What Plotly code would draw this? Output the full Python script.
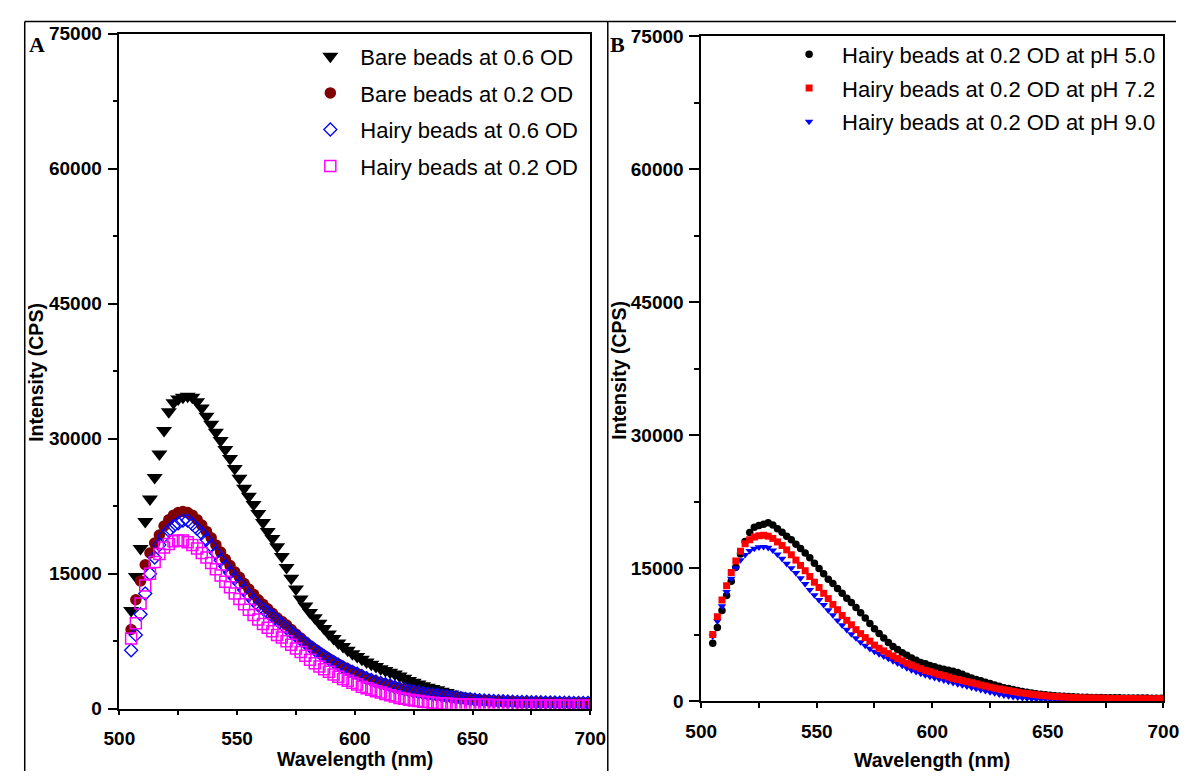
import plotly.graph_objects as go

# ---------------- data ----------------
wavelength = list(range(505, 700, 2))  # nm

# Panel A
bare_06 = [10900, 14700, 17800, 20800, 23300, 25700, 28300, 30900, 33000, 34000,
           34400, 34600, 34700, 34600, 34100, 33400, 32500, 31600, 30700, 29800,
           28800, 27800, 26700, 25600, 24500, 23600, 22700, 21700, 20700, 19700,
           18900, 18000, 16900, 15700, 14500, 13300, 12200, 11400, 10700, 10100,
           9500, 8900, 8300, 7800, 7300, 6900, 6500, 6100, 5800, 5500,
           5200, 4950, 4700, 4450, 4250, 4050, 3850, 3650, 3400, 3150,
           2950, 2750, 2550, 2400, 2250, 2100, 1950, 1800, 1650, 1500,
           1400, 1300, 1210, 1130, 1060, 1000, 950, 900, 860, 820,
           790, 760, 740, 720, 700, 690, 680, 670, 660, 650,
           640, 630, 620, 615, 610, 605, 600, 600]
bare_02 = [8800, 12100, 14200, 16000, 17300, 18400, 19300, 20300, 21000, 21500,
           21800, 21900, 21800, 21500, 21000, 20400, 19700, 19000, 18200, 17400,
           16600, 15900, 15200, 14600, 13900, 13300, 12700, 12100, 11600, 11100,
           10600, 10100, 9700, 9300, 8800, 8300, 7850, 7400, 7000, 6600,
           6250, 5900, 5550, 5250, 4950, 4650, 4400, 4150, 3900, 3650,
           3400, 3200, 3000, 2850, 2700, 2550, 2400, 2250, 2130, 2020,
           1910, 1810, 1720, 1640, 1560, 1490, 1420, 1350, 1280, 1210,
           1140, 1080, 1030, 980, 940, 910, 880, 850, 830, 810,
           790, 770, 750, 740, 730, 720, 710, 700, 690, 680,
           670, 660, 650, 645, 640, 635, 630, 630]
hairy_06 = [6500, 8200, 10500, 12800, 15000, 16800, 18200, 19200, 19800, 20300,
            20600, 20900, 20900, 20500, 20000, 19500, 18800, 18100, 17300, 16500,
            15800, 15100, 14500, 13900, 13200, 12600, 12000, 11500, 11100, 10700,
            10300, 9850, 9400, 8950, 8500, 8100, 7700, 7300, 6900, 6550,
            6200, 5850, 5500, 5200, 4900, 4600, 4350, 4100, 3900, 3650,
            3400, 3200, 3030, 2870, 2720, 2580, 2420, 2270, 2150, 2040,
            1930, 1830, 1740, 1670, 1600, 1530, 1460, 1390, 1320, 1250,
            1180, 1100, 1050, 1000, 960, 930, 900, 870, 850, 830,
            810, 790, 770, 760, 750, 740, 730, 720, 710, 700,
            690, 680, 670, 665, 660, 655, 650, 650]
hairy_02 = [7800, 9500, 11700, 13700, 15000, 16300, 17200, 17900, 18300, 18600,
            18700, 18700, 18500, 18200, 17800, 17300, 16800, 16200, 15500, 14800,
            14100, 13500, 12800, 12200, 11600, 11000, 10400, 9900, 9400, 9000,
            8600, 8200, 7900, 7500, 7100, 6700, 6300, 5900, 5450, 5050,
            4700, 4400, 4100, 3800, 3550, 3300, 3100, 2900, 2700, 2450,
            2270, 2100, 1950, 1800, 1650, 1500, 1350, 1200, 1100, 1000,
            920, 850, 780, 720, 660, 620, 580, 550, 520, 500,
            480, 470, 460, 450, 440, 430, 420, 410, 400, 400,
            390, 390, 380, 380, 370, 370, 360, 360, 360, 350,
            350, 350, 340, 340, 340, 330, 330, 330]

# Panel B
ph_50 = [6500, 8300, 10200, 11900, 13500, 15100, 16600, 18000, 19000, 19600,
         19800, 19950, 20100, 19850, 19450, 19050, 18600, 18200, 17700, 17200,
         16700, 16150, 15550, 14950, 14350, 13750, 13250, 12700, 12150, 11600,
         11100, 10550, 9950, 9350, 8750, 8150, 7600, 7100, 6600, 6150,
         5800, 5450, 5150, 4850, 4600, 4350, 4200, 4000, 3850, 3680,
         3570, 3460, 3340, 3200, 3000, 2790, 2590, 2430, 2270, 2120,
         1960, 1800, 1650, 1500, 1410, 1300, 1180, 1080, 990, 900,
         820, 760, 700, 650, 600, 560, 520, 490, 460, 440,
         420, 410, 400, 390, 380, 370, 360, 355, 350, 345,
         340, 335, 330, 325, 320, 315, 310, 305]
ph_72 = [7500, 9500, 11400, 13000, 14500, 15800, 16900, 17750, 18200, 18500,
         18650, 18700, 18600, 18350, 17950, 17550, 17050, 16500, 15900, 15300,
         14700, 14050, 13400, 12800, 12150, 11550, 10900, 10300, 9650, 9100,
         8600, 8050, 7600, 7150, 6750, 6300, 5950, 5650, 5350, 5080,
         4800, 4530, 4270, 4050, 3850, 3650, 3450, 3300, 3150, 3000,
         2850, 2700, 2550, 2420, 2300, 2180, 2060, 1930, 1800, 1680,
         1560, 1450, 1350, 1260, 1170, 1080, 990, 910, 830, 760,
         690, 630, 580, 540, 500, 470, 440, 410, 390, 370,
         350, 340, 330, 320, 310, 300, 290, 285, 280, 275,
         270, 265, 260, 255, 250, 250, 245, 240]
ph_90 = [7300, 9000, 10700, 12300, 13800, 15000, 15900, 16500, 16950, 17200,
         17350, 17400, 17300, 17000, 16550, 16050, 15500, 15000, 14450, 13850,
         13200, 12550, 11950, 11400, 10850, 10250, 9700, 9100, 8550, 8050,
         7550, 7100, 6650, 6250, 5900, 5580, 5300, 5040, 4780, 4520,
         4250, 3990, 3730, 3500, 3300, 3100, 2920, 2760, 2620, 2480,
         2340, 2200, 2060, 1920, 1790, 1660, 1530, 1400, 1270, 1140,
         1010, 890, 770, 650, 560, 480, 410, 350, 300, 250,
         210, 190, 170, 160, 150, 140, 130, 125, 120, 115,
         110, 105, 100, 100, 100, 95, 95, 90, 90, 90,
         85, 85, 85, 80, 80, 80, 80, 80]

for s in (bare_06, bare_02, hairy_06, hairy_02, ph_50, ph_72, ph_90):
    assert len(s) == len(wavelength), len(s)

names_a = ["Bare beads at 0.6 OD", "Bare beads at 0.2 OD",
           "Hairy beads at 0.6 OD", "Hairy beads at 0.2 OD"]
names_b = ["Hairy beads at 0.2 OD at pH 5.0", "Hairy beads at 0.2 OD at pH 7.2",
           "Hairy beads at 0.2 OD at pH 9.0"]

x_ticks = [500, 550, 600, 650, 700]
x_ticklabels = ["500", "550", "600", "650", "700"]
x_minor = [525, 575, 625, 675]
y_ticks = [0, 15000, 30000, 45000, 60000, 75000]
y_ticklabels = ["0", "15000", "30000", "45000", "60000", "75000"]
y_minor = [7500, 22500, 37500, 52500, 67500]

# ---------------- layout helpers ----------------
# The page body keeps its default 8 px margin; the figure starts at (8, 8)
# of the window and reaches its right and bottom edges.
OFF = 8
W, H = 1192 - OFF, 782 - OFF
def px(x):
    return (x - OFF) / W
def py(y):
    return 1 - (y - OFF) / H

SANS = "Arial, Liberation Sans, sans-serif"
SERIF = "Times New Roman, Liberation Serif, serif"

fig = go.Figure()

# Panel A traces
fig.add_trace(go.Scatter(x=wavelength, y=bare_06, mode="markers", name=names_a[0],
                         marker=dict(symbol="triangle-down", size=14, color="black"),
                         xaxis="x", yaxis="y", legend="legend", legendgroup="a1"))
fig.add_trace(go.Scatter(x=wavelength, y=bare_02, mode="markers", name=names_a[1],
                         marker=dict(symbol="circle", size=11.5, color="#800000"),
                         xaxis="x", yaxis="y", legend="legend", legendgroup="a2"))
fig.add_trace(go.Scatter(x=wavelength, y=hairy_06, mode="markers", name=names_a[2],
                         marker=dict(symbol="diamond-open", size=10, color="#0000FF",
                                     line=dict(width=1.3)),
                         xaxis="x", yaxis="y", legend="legend", legendgroup="a3"))
fig.add_trace(go.Scatter(x=wavelength, y=hairy_02, mode="markers", name=names_a[3],
                         marker=dict(symbol="square-open", size=11, color="#FF00FF",
                                     line=dict(width=1.5)),
                         xaxis="x", yaxis="y", legend="legend", legendgroup="a4"))

# Panel B traces (drawing order: black, blue, red; legend order by rank)
fig.add_trace(go.Scatter(x=wavelength, y=ph_50, mode="markers", name=names_b[0],
                         marker=dict(symbol="circle", size=7.5, color="black"),
                         xaxis="x2", yaxis="y2", legend="legend2", legendgroup="b1",
                         legendrank=1))
fig.add_trace(go.Scatter(x=wavelength, y=ph_90, mode="markers", name=names_b[2],
                         marker=dict(symbol="triangle-down", size=7.5, color="#0000FF"),
                         xaxis="x2", yaxis="y2", legend="legend2", legendgroup="b3",
                         legendrank=3))
fig.add_trace(go.Scatter(x=wavelength, y=ph_72, mode="markers", name=names_b[1],
                         marker=dict(symbol="square", size=7, color="#FF0000"),
                         xaxis="x2", yaxis="y2", legend="legend2", legendgroup="b2",
                         legendrank=2))

tickfont = dict(family=SANS, size=19, color="black", weight="bold")
minor_common = dict(ticks="outside", ticklen=5, tickcolor="black", tickwidth=1.5)

def xaxis(domain, anchor):
    return dict(domain=domain, anchor=anchor, range=[500, 700],
                tickmode="array", tickvals=x_ticks, ticktext=x_ticklabels,
                minor=dict(tickvals=x_minor, **minor_common),
                ticks="outside", ticklen=5, tickwidth=1.5, tickcolor="black",
                ticklabelstandoff=7,
                showline=True, linecolor="black", linewidth=1.5, mirror=True,
                showgrid=False, zeroline=False, tickfont=tickfont)

def yaxis(domain, anchor):
    return dict(domain=domain, anchor=anchor, range=[0, 75000],
                tickmode="array", tickvals=y_ticks, ticktext=y_ticklabels,
                minor=dict(tickvals=y_minor, **minor_common),
                ticks="outside", ticklen=10, tickwidth=1.5, tickcolor="black",
                ticklabelstandoff=2,
                showline=True, linecolor="black", linewidth=1.5, mirror=True,
                showgrid=False, zeroline=False, tickfont=tickfont)

legend_font = dict(family=SANS, size=22, color="black")

fig.update_layout(
    width=W, height=H,
    margin=dict(l=0, r=0, t=0, b=0),
    paper_bgcolor="white", plot_bgcolor="white",
    showlegend=True,
    xaxis=xaxis([px(106), px(590)], "y"),
    yaxis=yaxis([py(718), py(24)], "x"),
    xaxis2=xaxis([px(704), px(1179)], "y2"),
    yaxis2=yaxis([py(710), py(27)], "x2"),
    legend=dict(x=px(292), y=py(26), xanchor="left", yanchor="top",
                bgcolor="rgba(0,0,0,0)", borderwidth=0, font=legend_font,
                itemwidth=50, tracegroupgap=5, traceorder="grouped"),
    legend2=dict(x=px(781), y=py(24), xanchor="left", yanchor="top",
                 bgcolor="rgba(0,0,0,0)", borderwidth=0, font=legend_font,
                 itemwidth=56, tracegroupgap=2, traceorder="grouped"),
)

title_font = dict(family=SANS, size=19.5, color="black", weight="bold")
annotations = [
    dict(text="Wavelength (nm)", x=px(348), y=py(770), font=title_font),
    dict(text="Wavelength (nm)", x=px(941), y=py(771), font=title_font),
    dict(text="Intensity (CPS)", x=px(20), y=py(372), textangle=-90, font=title_font),
    dict(text="Intensity (CPS)", x=px(620), y=py(370), textangle=-90, font=title_font),
    dict(text="A", x=px(21), y=py(35), font=dict(family=SERIF, size=22, color="black", weight="bold")),
    dict(text="B", x=px(618), y=py(35), font=dict(family=SERIF, size=22, color="black", weight="bold")),
]
for a in annotations:
    a.update(xref="paper", yref="paper", showarrow=False, xanchor="center", yanchor="middle")
fig.update_layout(annotations=annotations)

line_style = dict(color="black", width=1.5)
shapes = [
    dict(type="line", x0=px(8.75), x1=px(8.75), y0=py(11.5), y1=0),
    dict(type="line", x0=px(8.75), x1=1, y0=py(11.5), y1=py(11.5)),
    dict(type="line", x0=px(608), x1=px(608), y0=py(11.5), y1=0),
]
for s in shapes:
    s.update(xref="paper", yref="paper", line=line_style, layer="above")
fig.update_layout(shapes=shapes)

fig.write_html("out.html")
